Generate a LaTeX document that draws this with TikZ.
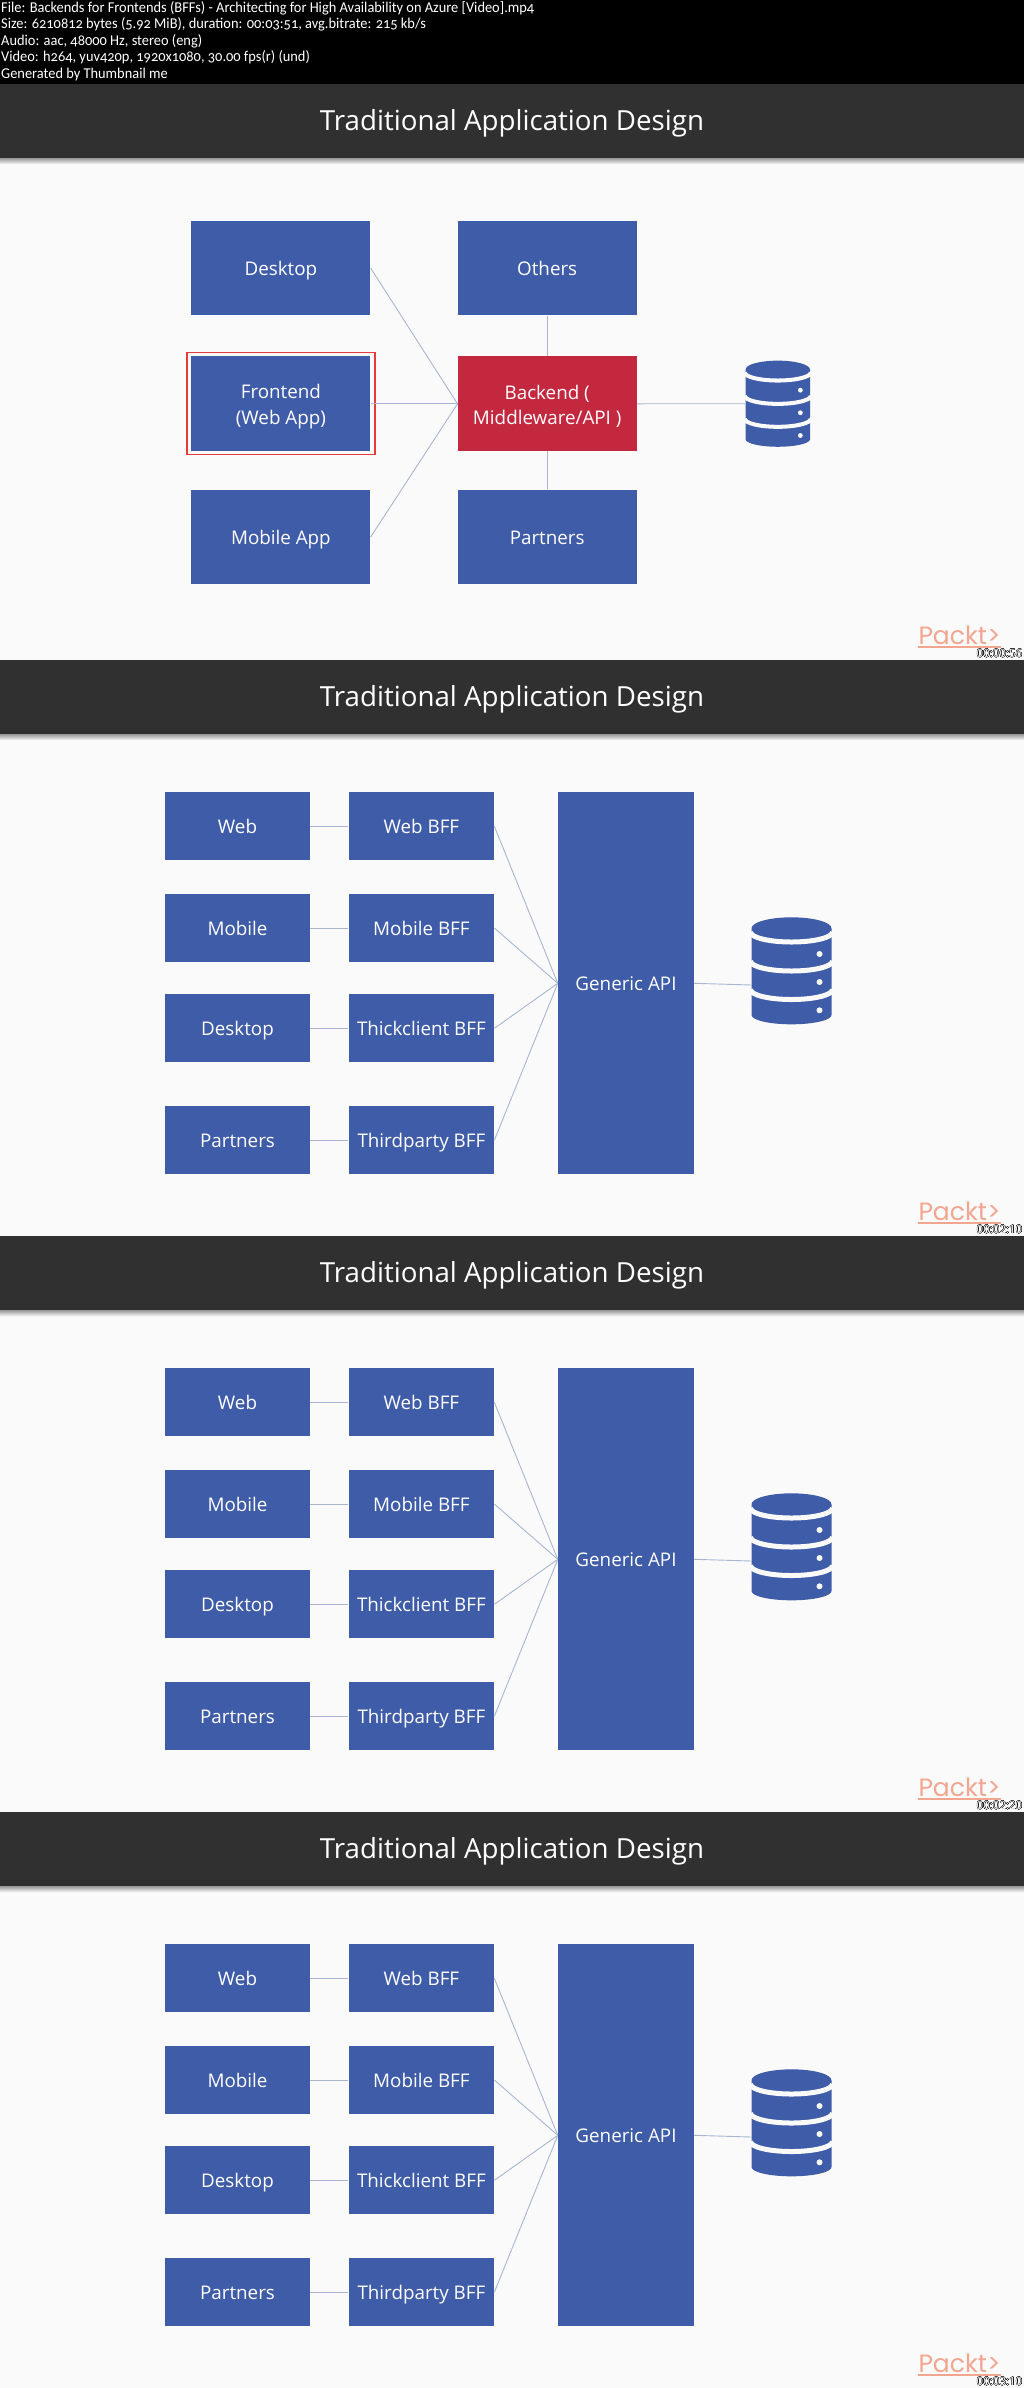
\documentclass[tikz,border=0pt]{standalone}
\usepackage{fontspec}
\usepackage{contour}
\setmainfont{Open Sans}
\newfontfamily\infofont[Numbers=OldStyle, FakeStretch=0.96]{Carlito}
\newfontfamily\logofont{Poppins}
\contourlength{0.25pt}
\definecolor{pageBg}{HTML}{FAFAFA}
\definecolor{bandGray}{HTML}{303030}
\definecolor{boxBlue}{HTML}{3F5CA8}
\definecolor{boxRed}{HTML}{C4283F}
\definecolor{edgeBlue}{HTML}{A9B5D3}
\definecolor{logoPeach}{HTML}{F2A68F}
\definecolor{frameRed}{HTML}{E83A3A}
\tikzset{
	blueBox/.style={
		fill=boxBlue, text=white, inner sep=0pt, align=center,
		font={\fontsize{18.8}{25.7}\selectfont}
	},
	capText/.style={text height=14.4pt, text depth=0pt},
	twoBox/.style={blueBox, minimum width=179pt, minimum height=94.7pt},
	bigBox/.style={twoBox, capText},
	bffBox/.style={blueBox, capText, minimum width=145.5pt, minimum height=68.3pt},
	apiBox/.style={blueBox, capText, minimum width=136pt, minimum height=382pt},
	frameBox/.style={draw=frameRed, line width=1.3pt, minimum width=188pt, minimum height=102pt},
	bandBox/.style={
		fill=bandGray, text=white, inner sep=0pt, minimum width=1024pt, minimum height=74pt,
		text height=19.8pt, text depth=0pt,
		font={\fontsize{27.7}{32}\selectfont}
	},
	logoBox/.style={
		text=logoPeach, inner sep=0pt, minimum width=77pt, minimum height=23pt,
		font={\logofont\fontsize{25}{26}\selectfont}
	},
	stampBox/.style={inner sep=0pt, anchor=east, font={\fontsize{11.5}{12}\selectfont}},
	infoBox/.style={
		text=white, inner sep=0pt, anchor=north west, align=left,
		font={\infofont\fontsize{15}{16.5}\selectfont}
	},
	dbBox/.style={inner sep=0pt, minimum width=80pt, minimum height=107pt},
	edgeLine/.style={draw=edgeBlue, line width=0.9pt},
	dbIcon/.pic={
		\begin{scope}[scale=#1]
			\fill[boxBlue] (-40,-42.5) arc[start angle=180, end angle=0, x radius=40pt, y radius=11pt]
				-- (40,44.2) arc[start angle=360, end angle=180, x radius=40pt, y radius=9.3pt] -- cycle;
			\draw[pageBg, line width=#1*5pt] (-41,-38.8) arc[start angle=180, end angle=360, x radius=41pt, y radius=10pt];
			\draw[pageBg, line width=#1*5pt] (-41,-9.8) arc[start angle=180, end angle=360, x radius=41pt, y radius=10pt];
			\draw[pageBg, line width=#1*5pt] (-41,18.7) arc[start angle=180, end angle=360, x radius=41pt, y radius=10pt];
			\fill[pageBg] (28,-16.8) circle[radius=3pt];
			\fill[pageBg] (28,11.2) circle[radius=3pt];
			\fill[pageBg] (28,39.5) circle[radius=3pt];
		\end{scope}
	},
}
\newcommand{\lineDown}{\rule{0pt}{19.5pt}}
\newcommand{\slideParts}[2]{
	\node[bandBox] (band-#1) at (512,37) {Traditional Application Design};
	\shade[top color=black!40, bottom color=pageBg] (band-#1.south west) rectangle ++(1024,6);
	\node[logoBox] (logo-#1) at (959.5,551) {Packt>};
	\draw[logoPeach, line width=1.7pt] (logo-#1.south west) -- (logo-#1.south east);
	\node[stampBox] (stamp-#1) at (1022.5,569.5) {\contour{black}{\textcolor{white}{#2}}};
}
\newcommand{\bffSlide}[3]{
	\begin{scope}[shift={(0,#2)}]
		\slideParts{#1}{#3}
		\node[bffBox] (web-#1) at (237.5,166.3) {Web};
		\node[bffBox] (mobile-#1) at (237.5,268) {Mobile};
		\node[bffBox] (desktop-#1) at (237.5,368.3) {Desktop};
		\node[bffBox] (partners-#1) at (237.5,480.2) {Partners};
		\node[bffBox] (webbff-#1) at (421.4,166.3) {Web BFF};
		\node[bffBox] (mobilebff-#1) at (421.4,268) {Mobile BFF};
		\node[bffBox] (thickbff-#1) at (421.4,368.3) {Thickclient BFF};
		\node[bffBox] (thirdbff-#1) at (421.4,480.2) {Thirdparty BFF};
		\node[apiBox] (api-#1) at (626,323.3) {Generic API};
		\node[dbBox] (db-#1) at (791.5,310.8) {};
		\pic at (db-#1) {dbIcon=1};
		\coordinate (dbport-#1) at (751.5,325);
		\path[edgeLine] (web-#1) edge (webbff-#1) (mobile-#1) edge (mobilebff-#1)
			(desktop-#1) edge (thickbff-#1) (partners-#1) edge (thirdbff-#1);
		\path[edgeLine] (webbff-#1.east) edge (api-#1.west) (mobilebff-#1.east) edge (api-#1.west)
			(thickbff-#1.east) edge (api-#1.west) (thirdbff-#1.east) edge (api-#1.west);
		\draw[edgeLine] (api-#1.east) -- (dbport-#1);
	\end{scope}
}
\begin{document}
\begin{tikzpicture}[x=1pt, y=-1pt]
\useasboundingbox (0,0) rectangle (1024,2388);
\fill[pageBg] (0,0) rectangle (1024,2388);
\fill[black] (0,0) rectangle (1024,84);
\node[infoBox] (info) at (1,1) {File: Backends for Frontends (BFFs) - Architecting for High Availability on Azure [Video].mp4\\
Size: 6210812 bytes (5.92 MiB), duration: 00:03:51, avg.bitrate: 215 kb/s\\
Audio: aac, 48000 Hz, stereo (eng)\\
Video: h264, yuv420p, 1920x1080, 30.00 fps(r) (und)\\
Generated by Thumbnail me};
\begin{scope}[shift={(0,84)}]
	\slideParts{1}{00:00:56}
	\node[bigBox] (desktop-1) at (280.9,184) {Desktop};
	\node[twoBox] (front-1) at (280.9,319.8) {\lineDown Frontend\\(Web App)};
	\node[bigBox] (mobile-1) at (280.9,453) {Mobile App};
	\node[bigBox] (others-1) at (547.2,184) {Others};
	\node[twoBox, fill=boxRed] (back-1) at (547.2,319.8) {\lineDown Backend (\\Middleware/API )};
	\node[bigBox] (partners-1) at (547.2,453) {Partners};
	\node[frameBox] (frame-1) at (front-1) {};
	\node[dbBox, minimum width=64.4pt, minimum height=86pt] (db-1) at (777.8,319.7) {};
	\pic at (db-1) {dbIcon=0.805};
	\path[edgeLine] (desktop-1.east) edge (back-1.west) (front-1.east) edge (back-1.west)
		(mobile-1.east) edge (back-1.west) (others-1) edge (back-1)
		(back-1) edge (partners-1) (back-1.east) edge (db-1.west);
\end{scope}
\bffSlide{2}{660}{00:02:10}
\bffSlide{3}{1236}{00:02:20}
\bffSlide{4}{1812}{00:03:10}
\end{tikzpicture}
\end{document}
